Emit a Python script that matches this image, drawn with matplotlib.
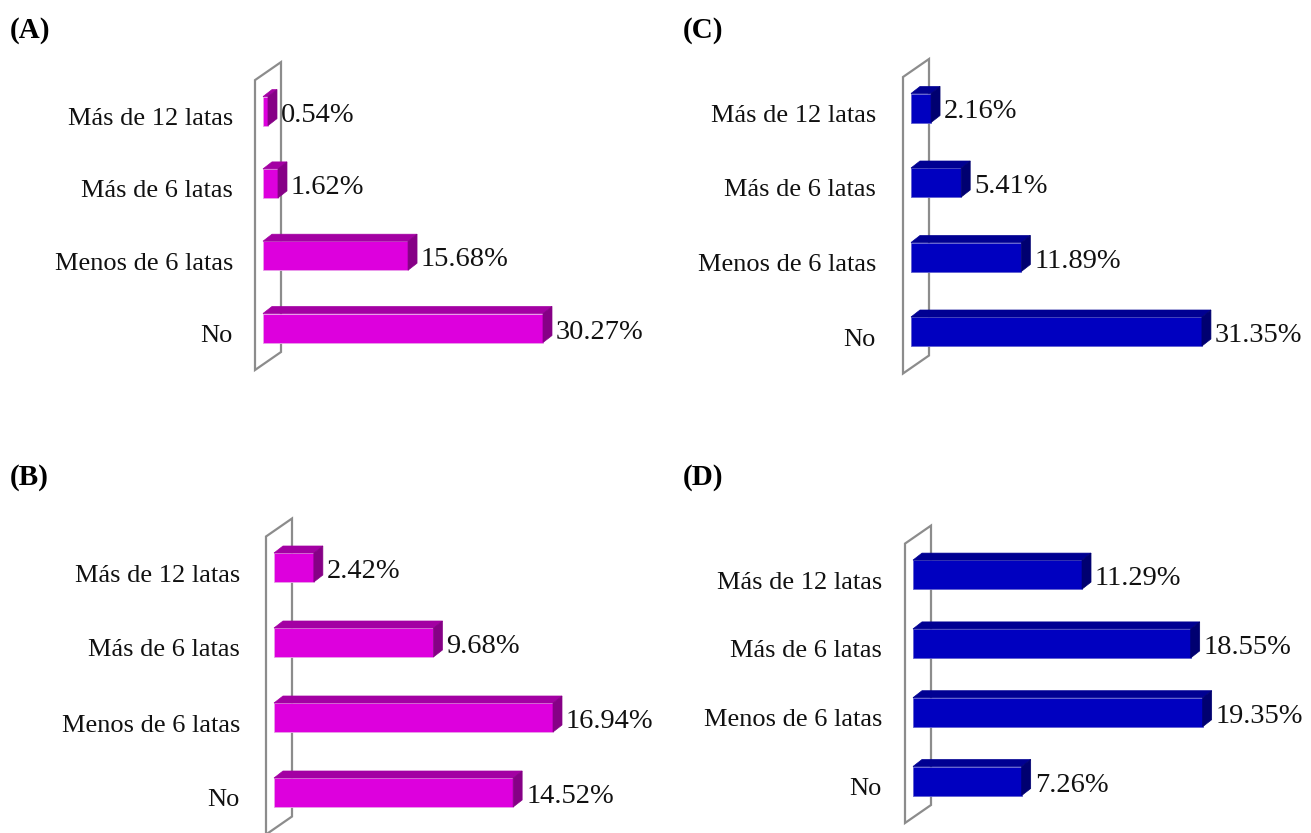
import matplotlib
matplotlib.use("Agg")
from matplotlib import pyplot as plt
from matplotlib.patches import Polygon

W, H = 1311, 833
DPI = 100

# categorias, de abajo hacia arriba
categorias = ["No", "Menos de 6 latas", "Más de 6 latas", "Más de 12 latas"]

valores_a = [30.27, 15.68, 1.62, 0.54]
valores_b = [14.52, 16.94, 9.68, 2.42]
valores_c = [31.35, 11.89, 5.41, 2.16]
valores_d = [7.26, 19.35, 18.55, 11.29]

magenta = ("#dd00dd", "#a300a3", "#860086")   # frente, tapa, lado
azul = ("#0000c0", "#000092", "#000070")

plt.rcParams["font.family"] = ["Liberation Serif", "DejaVu Serif"]

fig = plt.figure(figsize=(W / DPI, H / DPI), dpi=DPI)
fig.patch.set_facecolor("white")


def panel(x0, escala, c_no, paso, valores, colores, titulo, tx, ty, sep_etiq):
    # ejes colocados en pixeles: x en %, y en indice de categoria
    ancho = 430
    arriba = c_no - 3 * paso - 70
    abajo = c_no + 70
    ax = fig.add_axes([x0 / W, 1 - abajo / H, ancho / W, (abajo - arriba) / H])
    ax.set_xlim(0, ancho / escala)
    ax.set_ylim((c_no - abajo) / paso, (c_no - arriba) / paso)
    ax.axis("off")

    px_x = lambda p: p / escala
    px_y = lambda p: p / paso

    # pared gris detras de las barras
    wl, wr = px_x(-8), px_x(18)
    y_sup = 3 + px_y(31)
    y_inf = -px_y(42)
    pared = Polygon([(wl, y_inf), (wl, y_sup), (wr, y_sup + px_y(18)), (wr, y_inf + px_y(18))],
                    closed=True, facecolor="white", edgecolor="#8c8c8c", lw=1.6,
                    clip_on=False, zorder=1)
    ax.add_patch(pared)

    h = px_y(29)
    ddx, ddy = px_x(9), px_y(7)
    frente, tapa, lado = colores
    borde = "#e9a0e9" if frente == magenta[0] else "#6060d0"
    for i, v in enumerate(valores):
        ax.barh(i, v, height=h, color=frente, edgecolor=borde,
                lw=0.6, zorder=3, clip_on=False)
        y0, y1 = i - h / 2, i + h / 2
        ax.add_patch(Polygon([(0, y1), (v, y1), (v + ddx, y1 + ddy), (ddx, y1 + ddy)],
                             closed=True, facecolor=tapa, edgecolor=tapa, lw=0.5,
                             zorder=3, clip_on=False))
        ax.add_patch(Polygon([(v, y0), (v + ddx, y0 + ddy), (v + ddx, y1 + ddy), (v, y1)],
                             closed=True, facecolor=lado, edgecolor=lado, lw=0.5,
                             zorder=3, clip_on=False))
        ax.text(v + px_x(13), i - px_y(4), f"{v:.2f}%", ha="left", va="center",
                fontsize=20.5, color="#111111", clip_on=False)

    for i, cat in enumerate(categorias):
        ax.text(px_x(-sep_etiq), i - px_y(8), cat, ha="right", va="center", fontsize=19,
                color="#111111", clip_on=False)

    fig.text(tx / W, 1 - ty / H, titulo, fontsize=21, fontweight="bold",
             ha="left", va="baseline")
    return ax


panel(263, 9.25, 328, 72.3, valores_a, magenta, "(A)", 10, 38, 30)
panel(911, 9.28, 331.5, 74.5, valores_c, azul, "(C)", 683, 38, 35)
panel(274, 16.47, 792.5, 75.0, valores_b, magenta, "(B)", 10, 485, 34)
panel(913, 14.97, 781, 68.8, valores_d, azul, "(D)", 683, 485, 31)

fig.savefig("out.png", dpi=DPI, facecolor="white")
